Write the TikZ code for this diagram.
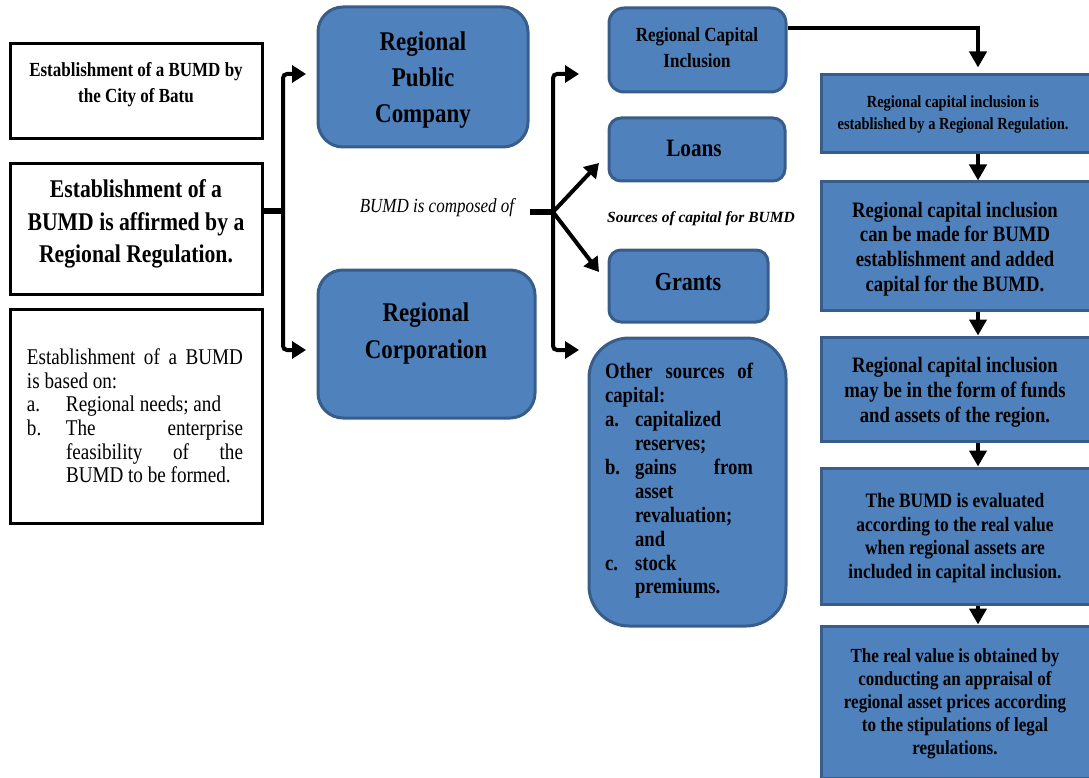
\documentclass[tikz,border=0pt]{standalone}
\usepackage{fontspec}
\setmainfont{Liberation Serif}[FakeStretch=0.85]
\newfontfamily\srcfont{Liberation Serif}
\usetikzlibrary{arrows.meta}
\definecolor{boxblue}{HTML}{4F81BD}
\definecolor{boxedge}{HTML}{385D8A}
\newcommand{\hitem}[2]{\par\hangindent=#1\hangafter=1\noindent\makebox[#1][l]{#2}}
\begin{document}
\begin{tikzpicture}[x=1pt,y=-1pt,
  wbox/.style={draw=black, line width=3pt, fill=white, inner sep=0pt},
  bbox/.style={draw=boxedge, line width=3pt, fill=boxblue, inner sep=0pt, align=center},
  rbox/.style={bbox, rounded corners=#1},
  conn/.style={line width=4pt, black},
  stem/.style={line width=6pt, black},
  tipa/.style={-{Triangle[length=14pt,width=17pt]}},
  tipb/.style={-{Triangle[length=16pt,width=17pt]}},
  lbl/.style={align=center, inner sep=0pt},
  para/.style={inner sep=0pt},
]
\useasboundingbox (0,0) rectangle (1089,778);

% ---------- left column ----------
\node[wbox, minimum width=252pt, minimum height=95pt] (A) at (136,91.5) {};
\node[lbl, font=\fontsize{20}{26}\selectfont\bfseries] (Atext) at (136,85) {Establishment of a BUMD by\\the City of Batu};

\node[wbox, minimum width=252pt, minimum height=130pt] (B) at (136,229) {};
\node[lbl, font=\fontsize{25.5}{32.5}\selectfont\bfseries] (Btext) at (136,224) {Establishment of a\\BUMD is affirmed by a\\Regional Regulation.};

\node[wbox, minimum width=252pt, minimum height=214pt] (C) at (136,416) {};
\node[para] (Ctext) at (135,416) {\begin{minipage}{216pt}\fontsize{22.5}{23.6}\selectfont\setlength\parindent{0pt}%
\noindent Establishment of a BUMD\linebreak is based on:%
\hitem{39pt}{a.}Regional needs; and%
\hitem{39pt}{b.}The enterprise\linebreak feasibility of the\linebreak BUMD to be formed.\par
\end{minipage}};

% ---------- middle column ----------
\node[rbox=25pt, minimum width=210pt, minimum height=140pt] (pubco) at (423,77) {};
\node[lbl, font=\fontsize{27}{36}\selectfont\bfseries] (pubtext) at (423,80) {Regional\\Public\\Company};

\node[rbox=25pt, minimum width=217pt, minimum height=148pt] (corp) at (426.5,344) {};
\node[lbl, font=\fontsize{27}{37}\selectfont\bfseries] (corptext) at (426,334) {Regional\\Corporation};

\node[lbl, font=\fontsize{20}{24}\selectfont\itshape] (cmp) at (437,208) {BUMD is composed of};

% ---------- sources column ----------
\node[rbox=15pt, minimum width=177pt, minimum height=84pt] (rci) at (697.5,50) {};
\node[lbl, font=\fontsize{20}{26}\selectfont\bfseries] (rcitext) at (697,48) {Regional Capital\\Inclusion};

\node[rbox=12pt, minimum width=176pt, minimum height=63pt] (loans) at (697,149.5) {};
\node[lbl, font=\fontsize{25}{30}\selectfont\bfseries] (loanstext) at (694,148) {Loans};
\node[rbox=12pt, minimum width=159pt, minimum height=72pt] (grants) at (688.5,286) {};
\node[lbl, font=\fontsize{26}{30}\selectfont\bfseries] (grantstext) at (688,282) {Grants};

\node[lbl, font=\fontsize{15.5}{18}\selectfont\srcfont\bfseries\itshape] (src) at (701,219) {Sources of capital for BUMD};

\node[rbox=40pt, minimum width=197pt, minimum height=288pt] (other) at (687.5,482) {};
\node[para] (othertext) at (679,481) {\begin{minipage}{148pt}\fontsize{22}{23.9}\selectfont\bfseries\setlength\parindent{0pt}%
\noindent Other sources of\linebreak capital:%
\hitem{30pt}{a.}capitalized\newline reserves;%
\hitem{30pt}{b.}gains from\linebreak asset\newline revaluation;\newline and%
\hitem{30pt}{c.}stock\newline premiums.\par
\end{minipage}};

% ---------- right column ----------
\node[bbox, minimum width=269pt, minimum height=78pt] (r1) at (955.5,114) {};
\node[lbl, font=\fontsize{17}{22}\selectfont\bfseries] (r1text) at (953,114) {Regional capital inclusion is\\established by a Regional Regulation.};
\node[bbox, minimum width=269pt, minimum height=128pt] (r2) at (955.5,246) {};
\node[lbl, font=\fontsize{22}{24.7}\selectfont\bfseries] (r2text) at (955,249) {Regional capital inclusion\\can be made for BUMD\\establishment and added\\capital for the BUMD.};
\node[bbox, minimum width=269pt, minimum height=104pt] (r3) at (955.5,389) {};
\node[lbl, font=\fontsize{22}{25}\selectfont\bfseries] (r3text) at (955,392) {Regional capital inclusion\\may be in the form of funds\\and assets of the region.};
\node[bbox, minimum width=269pt, minimum height=136pt] (r4) at (955.5,536) {};
\node[lbl, font=\fontsize{20.5}{23.4}\selectfont\bfseries] (r4text) at (955,538) {The BUMD is evaluated\\according to the real value\\when regional assets are\\included in capital inclusion.};
\node[bbox, minimum width=269pt, minimum height=152pt] (r5) at (955.5,702) {};
\node[lbl, font=\fontsize{20}{23}\selectfont\bfseries] (r5text) at (955,704) {The real value is obtained by\\conducting an appraisal of\\regional asset prices according\\to the stipulations of legal\\regulations.};

% ---------- connectors ----------
\coordinate (j1) at (283,211);
\coordinate (t1) at (306,74);
\coordinate (t2) at (306,350);
\draw[stem] (B.east |- j1) -- (j1);
\draw[conn, tipa, rounded corners=4pt] (j1) |- (t1);
\draw[conn, tipa, rounded corners=4pt] (j1) |- (t2);

\coordinate (s2) at (530,212);
\coordinate (j2) at (553,212);
\coordinate (t3) at (579,74);
\coordinate (t4) at (579,350);
\coordinate (d1) at (599,163);
\coordinate (d2) at (599,272);
\draw[stem] (s2) -- (j2);
\draw[conn, tipa, rounded corners=4pt] (j2) |- (t3);
\draw[conn, tipa, rounded corners=4pt] (j2) |- (t4);
\draw[conn, tipa] (j2) -- (d1);
\draw[conn, tipa] (j2) -- (d2);

\coordinate (ax) at (978,0);
\coordinate (y28) at (0,28);
\draw[conn, tipb, shorten >=6pt] (rci.east |- y28) -| (r1.north -| ax);
\draw[conn, tipb] (r1.south -| ax) -- (r2.north -| ax);
\draw[conn, tipb] (r2.south -| ax) -- (r3.north -| ax);
\draw[conn, tipb] (r3.south -| ax) -- (r4.north -| ax);
\draw[conn, tipb] (r4.south -| ax) -- (r5.north -| ax);
\end{tikzpicture}
\end{document}
